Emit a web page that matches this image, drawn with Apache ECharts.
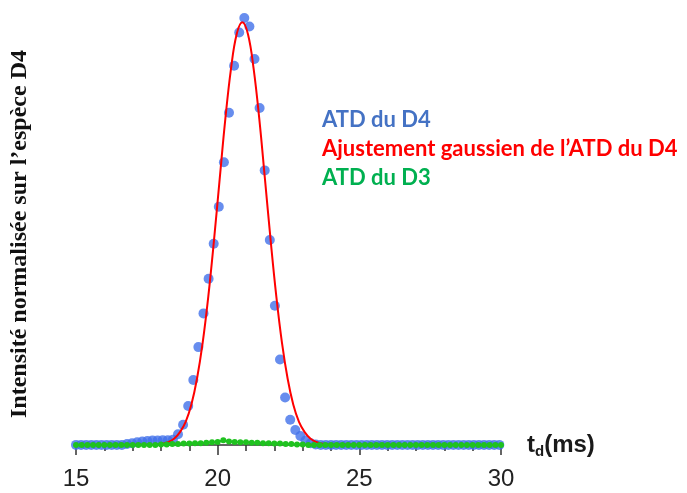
<!DOCTYPE html>
<html>
<head>
<meta charset="utf-8">
<script src="https://cdn.jsdelivr.net/npm/echarts@6/dist/echarts.min.js"></script>
<style>
html,body{margin:0;padding:0;background:#fff;}
#chart{width:687px;height:493px;}
</style>
</head>
<body>
<div id="chart"></div>
<script>
// ---- Data ----
const xTicks = [15, 20, 25, 30];

const tdD4 = [
  15.00,15.18,15.36,15.54,15.72,15.90,16.08,16.26,16.44,16.62,
  16.80,16.98,17.16,17.34,17.52,17.70,17.88,18.06,18.24,18.42,
  18.60,18.78,18.96,19.14,19.32,19.50,19.68,19.86,20.04,20.22,
  20.40,20.58,20.76,20.94,21.12,21.30,21.48,21.66,21.84,22.02,
  22.20,22.38,22.56,22.74,22.92,23.10,23.28,23.46,23.64,23.82,
  24.00,24.18,24.36,24.54,24.72,24.90,25.08,25.26,25.44,25.62,
  25.80,25.98,26.16,26.34,26.52,26.70,26.88,27.06,27.24,27.42,
  27.60,27.78,27.96,28.14,28.32,28.50,28.68,28.86,29.04,29.22,
  29.40,29.58,29.76,29.94
];
const atdD4 = [
  0,0,0,0,0,0,0,0,0,0,
  0.002,0.004,0.006,0.008,0.009,0.010,0.010,0.011,0.011,0.012,
  0.025,0.047,0.091,0.152,0.229,0.308,0.389,0.471,0.558,0.662,
  0.778,0.888,0.966,1.000,0.980,0.904,0.789,0.643,0.480,0.326,
  0.200,0.111,0.059,0.035,0.021,0.010,0.004,0.001,0,0,
  0,0,0,0,0,0,0,0,0,0,
  0,0,0,0,0,0,0,0,0,0,
  0,0,0,0,0,0,0,0,0,0,
  0,0,0,0
];

const tdFit = [
  15.00,17.87,18.07,18.27,18.47,18.67,18.87,19.07,19.27,19.47,19.67,
  19.87,20.07,20.27,20.47,20.67,20.87,21.07,21.27,21.47,21.67,
  21.87,22.07,22.27,22.47,22.67,22.87,23.07,23.27,23.47,23.67,23.87,30.00
];
const fitD4 = [
  0,0.001,0.003,0.007,0.015,0.030,0.054,0.094,0.155,0.239,0.348,
  0.479,0.622,0.763,0.881,0.962,0.990,0.962,0.881,0.763,0.622,
  0.479,0.348,0.239,0.155,0.094,0.054,0.030,0.015,0.007,0.003,0.001,0
];

const tdD3 = [
  15.0,15.2,15.4,15.6,15.8,16.0,16.2,16.4,16.6,16.8,
  17.0,17.2,17.4,17.6,17.8,18.0,18.2,18.4,18.6,18.8,
  19.0,19.2,19.4,19.6,19.8,20.0,20.2,20.4,20.6,20.8,
  21.0,21.2,21.4,21.6,21.8,22.0,22.2,22.4,22.6,22.8,
  23.0,23.2,23.4,23.6,23.8,24.0,24.2,24.4,24.6,24.8,
  25.0,25.2,25.4,25.6,25.8,26.0,26.2,26.4,26.6,26.8,
  27.0,27.2,27.4,27.6,27.8,28.0,28.2,28.4,28.6,28.8,
  29.0,29.2,29.4,29.6,29.8,30.0
];
const atdD3 = [
  0,0,0,0,0,0,0,0,0,0,
  0,0,0,0,0,0.001,0.001,0.002,0.002,0.003,
  0.003,0.004,0.004,0.005,0.006,0.007,0.011,0.008,0.007,0.006,
  0.006,0.005,0.005,0.004,0.004,0.003,0.003,0.002,0.002,0.001,
  0.001,0,0,0,0,0,0,0,0,0,
  0,0,0,0,0,0,0,0,0,0,
  0,0,0,0,0,0,0,0,0,0,
  0,0,0,0,0,0
];

const seriesNames = ['ATD du D4', 'Ajustement gaussien de l\u2019ATD du D4', 'ATD du D3'];
const yTitle = 'Intensit\u00e9 normalis\u00e9e sur l\u2019esp\u00e8ce D4';

const pair = (xs, ys) => xs.map((x, i) => [x, ys[i]]);

const chart = echarts.init(document.getElementById('chart'), null, {renderer: 'canvas'});
chart.setOption({
  animation: false,
  backgroundColor: '#ffffff',
  grid: {left: 75, right: 186, top: 18, bottom: 43, containLabel: false},
  legend: {
    orient: 'vertical',
    left: 312,
    top: 103,
    itemWidth: 0,
    itemHeight: 24,
    itemGap: 6,
    selectedMode: false,
    textStyle: {fontFamily: 'Lato', fontWeight: 'bold', fontSize: 22},
    data: [
      {name: seriesNames[0], icon: 'none', textStyle: {color: '#4472c4'}},
      {name: seriesNames[1], icon: 'none', textStyle: {color: '#ff0000'}},
      {name: seriesNames[2], icon: 'none', textStyle: {color: '#00b050'}}
    ]
  },
  xAxis: {
    type: 'value',
    min: xTicks[0],
    max: xTicks[xTicks.length - 1],
    interval: 5,
    name: 't{d|d}(ms)',
    nameLocation: 'end',
    nameGap: 26,
    nameTextStyle: {
      fontFamily: 'Liberation Sans', fontWeight: 'bold', fontSize: 24, color: '#1a1a1a',
      lineHeight: 28,
      rich: {d: {fontFamily: 'Liberation Sans', fontWeight: 'bold', fontSize: 15, color: '#1a1a1a', verticalAlign: 'bottom', lineHeight: 15}}
    },
    axisLine: {show: true, lineStyle: {color: '#333', width: 1.5}},
    axisTick: {show: true, inside: false, length: 10, lineStyle: {color: '#333', width: 1.5}},
    minorTick: {show: true, splitNumber: 5, length: 6, lineStyle: {color: '#333', width: 1.5}},
    axisLabel: {margin: 17, fontFamily: 'Liberation Sans', fontSize: 24, color: '#222'},
    splitLine: {show: false}
  },
  yAxis: {
    type: 'value',
    min: -0.012,
    max: 1.0,
    name: yTitle,
    nameLocation: 'middle',
    nameRotate: 90,
    nameGap: 44,
    nameTextStyle: {fontFamily: 'Liberation Serif', fontWeight: 'bold', fontSize: 24, color: '#111'},
    axisLine: {show: false},
    axisTick: {show: false},
    axisLabel: {show: false},
    splitLine: {show: false}
  },
  series: [
    {
      name: seriesNames[0],
      type: 'scatter',
      data: pair(tdD4, atdD4),
      symbol: 'circle',
      symbolSize: 10,
      itemStyle: {color: '#4170ea'},
      z: 2
    },
    {
      name: seriesNames[1],
      type: 'line',
      data: pair(tdFit, fitD4),
      smooth: 0.4,
      showSymbol: false,
      symbol: 'none',
      lineStyle: {color: '#ff0000', width: 2},
      itemStyle: {color: '#ff0000'},
      z: 3
    },
    {
      name: seriesNames[2],
      type: 'line',
      data: pair(tdD3, atdD3),
      symbol: 'circle',
      symbolSize: 6,
      showSymbol: true,
      lineStyle: {color: '#1fc21f', width: 2},
      itemStyle: {color: '#1fc21f'},
      z: 4
    }
  ]
});
</script>
</body>
</html>
